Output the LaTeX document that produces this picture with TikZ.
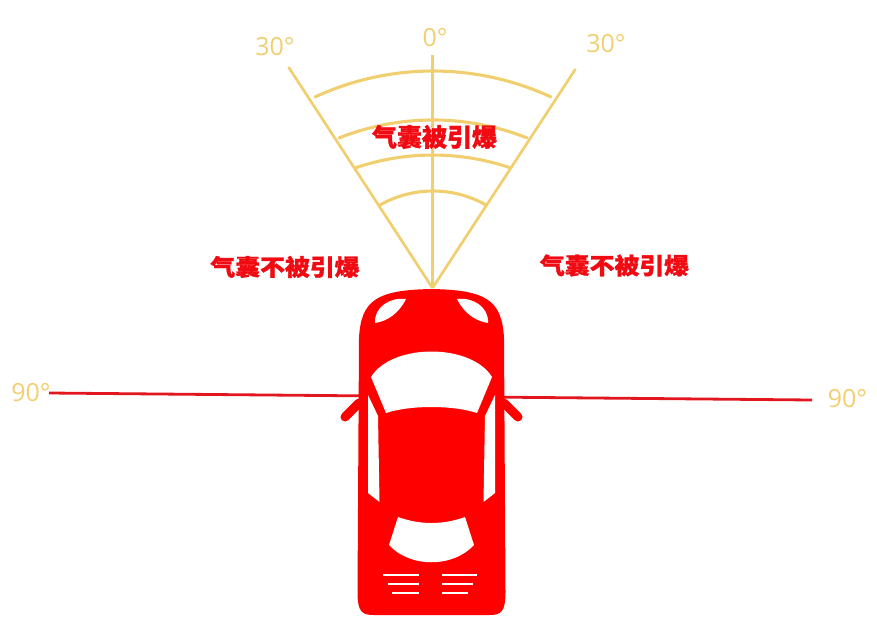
\documentclass[tikz,border=0pt]{standalone}
\usepackage{fontspec}
\newfontfamily\cjk{Noto Sans CJK SC}[BoldFeatures={FakeBold=1.2}]
\newfontfamily\degfont{Open Sans}
\definecolor{gold}{RGB}{241,207,112}
\definecolor{zonered}{RGB}{240,10,18}
\definecolor{carred}{RGB}{255,0,0}
\definecolor{axisred}{RGB}{226,22,30}
\begin{document}
\begin{tikzpicture}[x=1pt,y=-1pt,
  fanline/.style={draw=gold, line width=2.7pt},
  fanarc/.style={draw=gold, line width=3.1pt, line cap=round},
  axisline/.style={draw=axisred, line width=2.8pt},
  deg/.style={text=gold, font=\degfont\fontsize{25}{25}\selectfont, inner sep=0pt},
  zone/.style={text=zonered, font=\cjk\bfseries\fontsize{25}{25}\selectfont, inner sep=0pt},
  sidezone/.style={text=zonered, font=\cjk\bfseries\fontsize{23}{23}\selectfont, inner sep=0pt},
  carbody/.style={fill=carred},
  glass/.style={fill=white},
  mirror/.style={draw=carred, line width=9pt, line cap=round},
  grille/.style={draw=white, line width=2.4pt}]
\useasboundingbox (0,0) rectangle (877,616);

% lateral axis behind the car
\coordinate (axisL) at (49,393);
\coordinate (axisR) at (812,400);
\draw[axisline] (axisL) -- (axisR);

% frontal trigger sector
\coordinate (apex) at (432.5,288);
\coordinate (rayL) at (288.5,67);
\coordinate (rayM) at (432.5,55);
\coordinate (rayR) at (575.5,69);
\draw[fanline] (apex) -- (rayL);
\draw[fanline] (apex) -- (rayM);
\draw[fanline] (apex) -- (rayR);

\draw[fanarc] (315,97)  arc[start angle=245.15, end angle=294.85, radius=280.8];
\draw[fanarc] (339,138) arc[start angle=248.3,  end angle=291.7,  radius=254.4];
\draw[fanarc] (355,168) arc[start angle=251.1,  end angle=288.9,  radius=240.5];
\draw[fanarc] (380,205) arc[start angle=240.4,  end angle=299.6,  radius=107.3];

% angle labels
\node[deg] (d0)  at (435,38)    {0°};
\node[deg] (d30l) at (275,47)   {30°};
\node[deg] (d30r) at (606,44)   {30°};
\node[deg] (d90l) at (31,392.5) {90°};
\node[deg] (d90r) at (847.5,399) {90°};

% zone labels
\node[zone] (fire) at (434.5,137) {气囊被引爆};
\node[sidezone] (nofireL) at (285,267) {\scalebox{1.08}[1]{气囊不被引爆}};
\node[sidezone] (nofireR) at (614.5,265.5) {\scalebox{1.08}[1]{气囊不被引爆}};

% car seen from above
\draw[mirror] (359,403) -- (345,417);
\draw[mirror] (504,403) -- (518,417);

\path[carbody] (431.5,289)
  .. controls (486,290) and (502,300) .. (504,338)
  -- (505.5,592)
  .. controls (505.5,612) and (501,615) .. (489,615)
  -- (374,615)
  .. controls (362,615) and (357.5,612) .. (357.5,592)
  -- (359,338)
  .. controls (361,300) and (377,290) .. (431.5,289) -- cycle;

% headlights
\path[glass] (375,323) .. controls (374,307) and (390,297) .. (406,299)
  .. controls (399,313) and (388,321) .. (375,323) -- cycle;
\path[glass] (488,323) .. controls (489,307) and (473,297) .. (457,299)
  .. controls (464,313) and (475,321) .. (488,323) -- cycle;

% windshield
\path[glass] (371,377) .. controls (392,343) and (471,343) .. (492,377)
  -- (477,413) .. controls (453,405) and (410,405) .. (386,413) -- cycle;

% side windows
\path[glass] (368,395) -- (378,416) -- (379.5,502) -- (368,493) -- cycle;
\path[glass] (495,395) -- (485,416) -- (483.5,502) -- (495,493) -- cycle;

% rear window
\path[glass] (398,517) .. controls (420,525) and (443,525) .. (465,517)
  -- (474,545) .. controls (453,568) and (410,568) .. (389,545) -- cycle;

% rear grille
\draw[grille] (383,575) -- (419,575);
\draw[grille] (388,584) -- (419,584);
\draw[grille] (392,593) -- (419,593);
\draw[grille] (442,575) -- (477,575);
\draw[grille] (442,584) -- (473,584);
\draw[grille] (442,593) -- (468,593);
\end{tikzpicture}
\end{document}
